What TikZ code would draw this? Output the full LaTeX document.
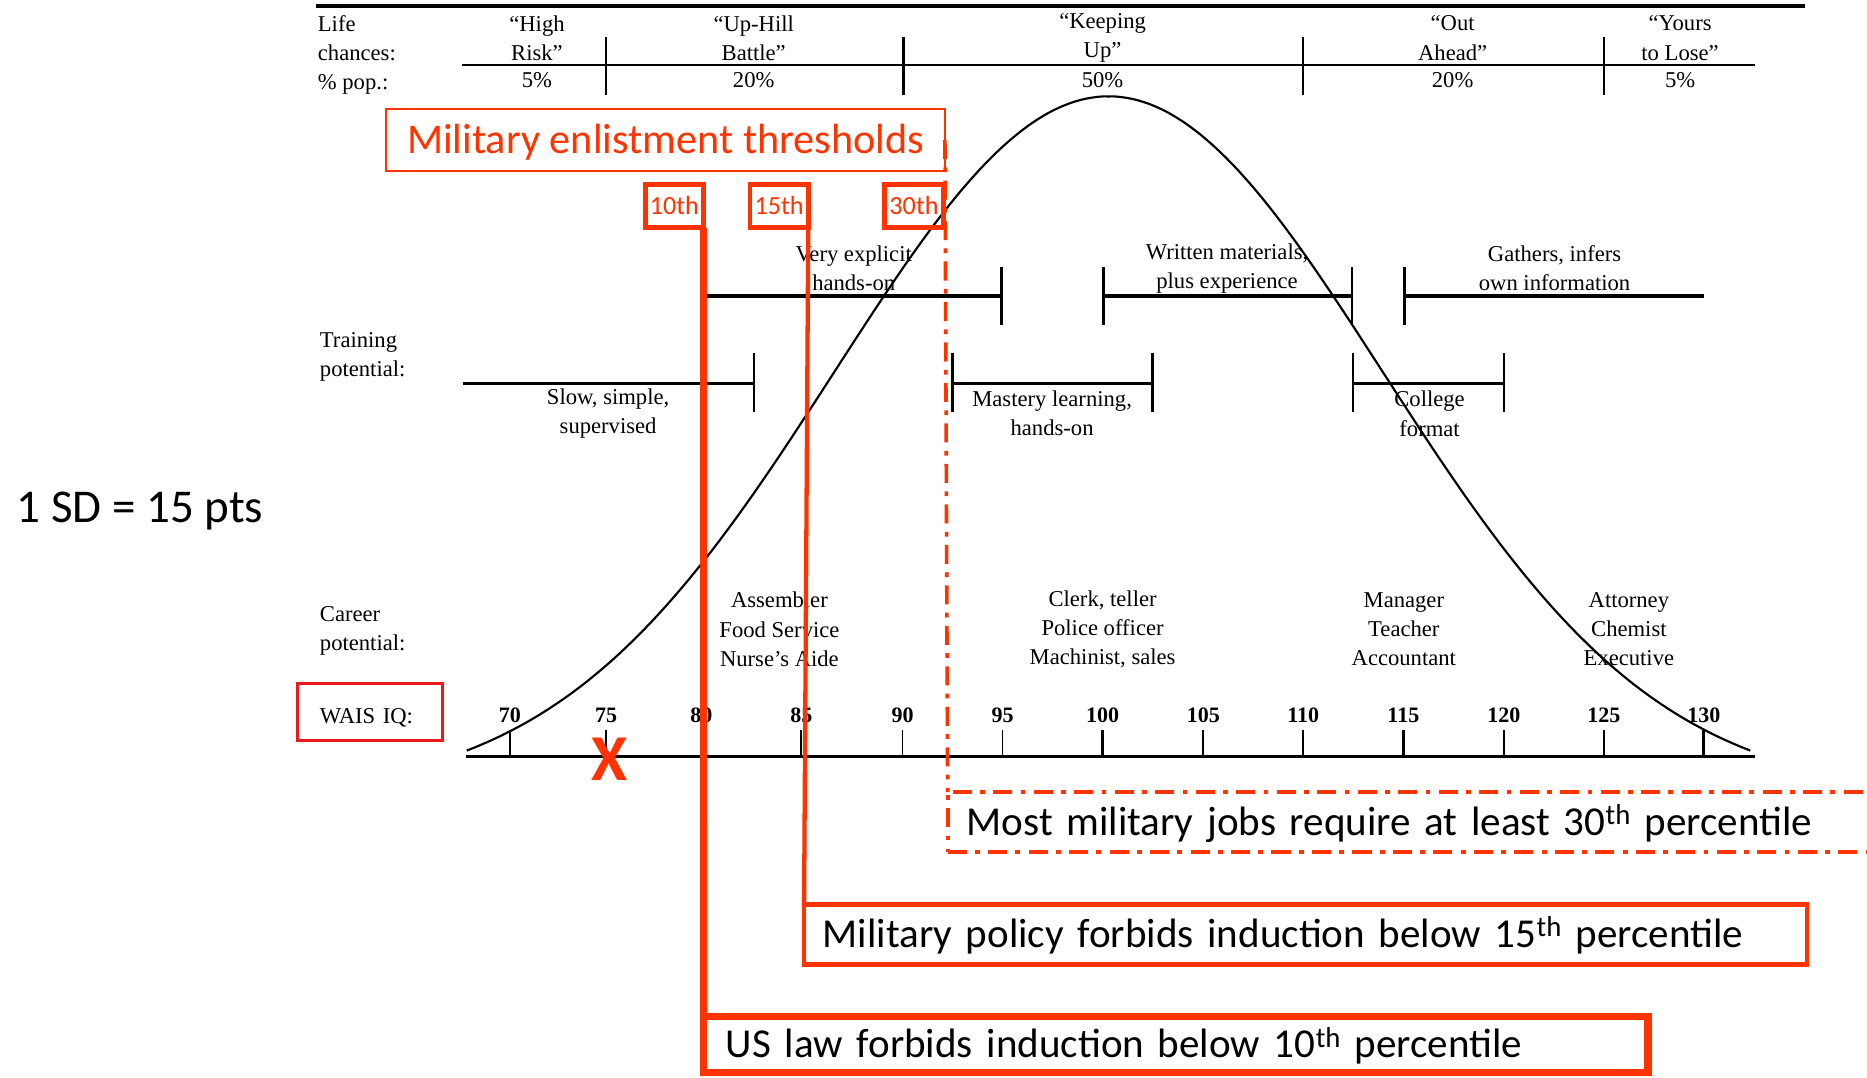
\documentclass[tikz,border=0pt]{standalone}
\usepackage{fontspec}
\setmainfont{Liberation Serif}
\newfontfamily\calib{Carlito}
\definecolor{ored}{RGB}{255,51,0}
\definecolor{wred}{RGB}{235,25,30}
\begin{document}
\begin{tikzpicture}[x=1pt,y=-1pt,
  every node/.style={outer sep=0pt},
  txt/.style={font=\fontsize{19}{24.5}\selectfont, inner sep=0pt, align=center},
  num/.style={font=\bfseries\fontsize{18.5}{20}\selectfont, inner sep=0pt},
  bar/.style={line width=2.6},
  barend/.style={line width=2},
  thbox/.style={draw=ored, line width=4, text=ored, font=\calib\fontsize{22}{24}\selectfont,
    minimum width=49, minimum height=36.4, inner sep=0pt, text height=14, text depth=0},
  bignote/.style={font=\calib\fontsize{34.5}{40}\selectfont, align=left, inner ysep=0pt,
    text height=22, text depth=0},
  dashdot/.style={dash pattern=on 16pt off 7pt on 4pt off 7pt}]
\useasboundingbox (0,0) rectangle (1568,905);
\clip (0,0) rectangle (1568,905);

% ---------- life chances table ----------
\draw[line width=3.6] (265,5) -- (1515.5,5);
\draw[line width=1.6] (388,54.6) -- (1473.6,54.6);
\foreach \x in {509,758.9,1094.4,1347} \draw[line width=2] (\x,30.8) -- (\x,79.8);
\node[txt, anchor=west, align=left] (life) at (267,46) {Life\\chances:\\\% pop.:};
\node[txt] (hr)  at (451,32)  {“High\\Risk”};
\node[txt] (uh)  at (633,32)  {“Up-Hill\\Battle”};
\node[txt] (ku)  at (926,32)  {“Keeping\\Up”};
\node[txt] (oa)  at (1220,32) {“Out\\Ahead”};
\node[txt] (yl)  at (1411,32) {“Yours\\to Lose”};
\node[txt] (p1) at (451,67.5)  {5\%};
\node[txt] (p2) at (633,67.5)  {20\%};
\node[txt] (p3) at (926,67.5)  {50\%};
\node[txt] (p4) at (1220,67.5) {20\%};
\node[txt] (p5) at (1411,67.5) {5\%};

% ---------- bell curve ----------
\draw[line width=1.8, line join=round] plot[domain=392:1470, samples=241, smooth]
  (\x, {668-587*exp(0-((\x-931)/100)^2/10.58)});

% ---------- training potential ----------
\node[txt, anchor=west, align=left] (train) at (268.7,300) {Training\\potential:};
\draw[bar] (589.4,248.6) -- (841,248.6);
\draw[barend] (589.4,224) -- (589.4,273) (841,224) -- (841,273);
\node[txt] (ve) at (717,225.5) {Very explicit\\hands-on};
\draw[bar] (926.8,248.6) -- (1135.5,248.6);
\draw[barend] (926.8,224) -- (926.8,273) (1135.5,224) -- (1135.5,273);
\node[txt] (wm) at (1030.5,225.5) {Written materials,\\plus experience};
\draw[bar] (1179.6,248.6) -- (1431,248.6);
\draw[barend] (1179.6,224) -- (1179.6,273);
\node[txt] (gi) at (1305.6,225.5) {Gathers, infers\\own information};
\draw[bar] (389,322) -- (633,322);
\draw[barend] (633,296.5) -- (633,345.7);
\node[txt] (ss) at (510.7,347.5) {Slow, simple,\\supervised};
\draw[bar] (800,322) -- (968,322);
\draw[barend] (800,296.5) -- (800,345.7) (968,296.5) -- (968,345.7);
\node[txt] (ml) at (883.6,347) {Mastery learning,\\hands-on};
\draw[bar] (1136.4,322) -- (1263,322);
\draw[barend] (1136.4,296.5) -- (1136.4,345.7) (1263,296.5) -- (1263,345.7);
\node[txt] (cf) at (1200.6,347.5) {College\\format};

% ---------- career potential ----------
\node[txt, anchor=west, align=left] (career) at (268.7,530) {Career\\potential:};
\node[txt] (c1) at (654.6,528.5) {Assembler\\Food Service\\Nurse’s Aide};
\node[txt] (c2) at (926,528.5)   {Clerk, teller\\Police officer\\Machinist, sales};
\node[txt] (c3) at (1179,528.5)  {Manager\\Teacher\\Accountant};
\node[txt] (c4) at (1368,528.5)  {Attorney\\Chemist\\Executive};

% ---------- IQ axis ----------
\node[txt, draw=wred, line width=2.4, text width=84, align=left, inner xsep=18.7,
  inner ysep=0pt, minimum height=48, text height=20, text depth=0.6] (wais) at (310.7,597.8) {WAIS IQ:};
\draw[line width=2.2] (391,635.5) -- (1473.6,635.5);
\foreach \v/\x/\w in {70/428.3/1.5,75/509/2.4,80/589/1.5,85/673/1.5,90/758/1.5,95/842/1.5,
  100/926/2.4,105/1010.6/1.5,110/1094.6/1.5,115/1178.6/2.4,120/1263/1.5,125/1347/1.5,130/1431/2.4}{
  \draw[line width=\w] (\x,613) -- (\x,635.5);
  \node[num] (n\v) at (\x,600.5) {\v};
}

% ---------- left note ----------
\node[font=\calib\fontsize{39.5}{44}\selectfont, anchor=base west, inner sep=0pt] (sd) at (14,439) {1 SD = 15 pts};

% ---------- red overlays ----------
\node[draw=ored, line width=1.8, text=ored, font=\calib\fontsize{35.5}{40}\selectfont,
  minimum width=469.1, minimum height=51.4, inner sep=0pt, text height=22.4, text depth=0]
  (title) at (559.05,117.6) {Military enlistment thresholds};
\node[thbox] (b10) at (566.4,172.9) {10th};
\node[thbox] (b15) at (654.3,172.9) {15th};
\node[thbox] (b30) at (767.6,172.9) {30th};

\node[bignote, draw=ored, line width=3.4, dashdot, text width=752, inner xsep=16,
  minimum height=50.4] (most) at (1187.85,690.4)
  {Most military jobs require at least 30\textsuperscript{th} percentile};
\node[bignote, draw=ored, line width=3.6, text width=810.8, inner xsep=15.7,
  minimum height=50.4] (policy) at (1096.4,784.8)
  {Military policy forbids induction below 15\textsuperscript{th} percentile};
\node[bignote, draw=ored, line width=6, text width=755.6, inner xsep=18.7,
  minimum height=47] (law) at (987.5,877.5)
  {US law forbids induction below 10\textsuperscript{th} percentile};

\draw[ored, line width=6] (b10.south east) -- (law.north west);
\draw[ored, line width=3.6] (b15.south east) -- (policy.north west);
\draw[ored, line width=3, dashdot] (title.east) -- (most.north west);

\node[text=ored, font=\calib\bfseries\fontsize{55}{60}\selectfont, inner sep=0pt] (xmark) at (511.5,638) {X};
\end{tikzpicture}
\end{document}
